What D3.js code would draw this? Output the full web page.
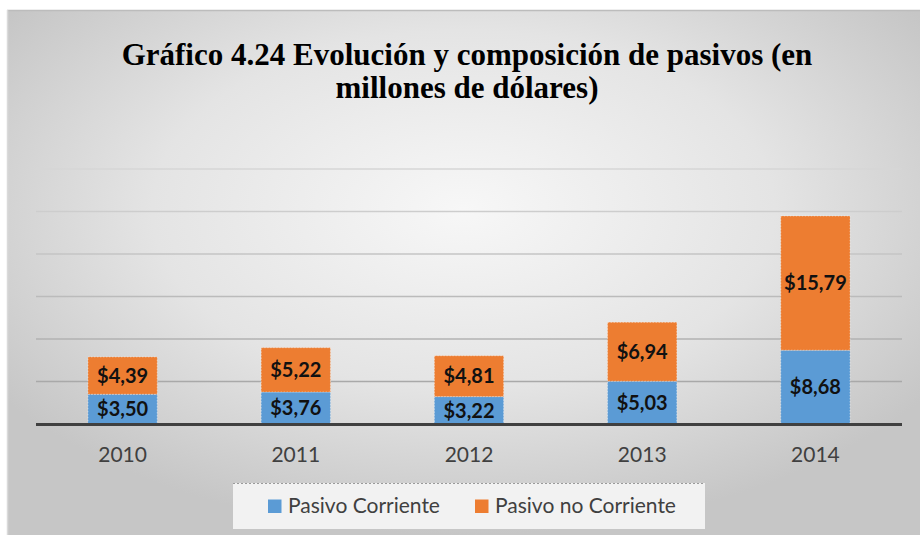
<!DOCTYPE html>
<html>
<head>
<meta charset="utf-8">
<script src="https://cdn.jsdelivr.net/npm/d3@7"></script>
<style>
  html, body { margin: 0; padding: 0; background: #ffffff; }
  svg { display: block; }
</style>
</head>
<body>
<svg id="chart" width="920" height="535"></svg>
<script>
// ---- data ----
const years = ["2010", "2011", "2012", "2013", "2014"];
const pasivoCorriente = [3.50, 3.76, 3.22, 5.03, 8.68];
const pasivoNoCorriente = [4.39, 5.22, 4.81, 6.94, 15.79];
const seriesNames = ["Pasivo Corriente", "Pasivo no Corriente"];
const yTicks = [0, 5, 10, 15, 20, 25, 30];
const titleLines = ["Gráfico 4.24 Evolución y composición de pasivos (en", "millones de dólares)"];

const colors = ["#5b9bd5", "#ed7d31"];
const SERIF = '"Liberation Serif", "Times New Roman", serif';
const SANS = 'Lato, "Open Sans", sans-serif';

const svg = d3.select("#chart");
const W = 920, H = 535;

// background gradient
const defs = svg.append("defs");
const rg = defs.append("radialGradient").attr("id", "bg")
  .attr("cx", "50%").attr("cy", "38%").attr("r", "62%");
rg.append("stop").attr("offset", "0%").attr("stop-color", "#f7f7f7");
rg.append("stop").attr("offset", "55%").attr("stop-color", "#e4e4e4");
rg.append("stop").attr("offset", "100%").attr("stop-color", "#c6c6c6");

svg.append("rect").attr("x", 7).attr("y", 10).attr("width", W - 7).attr("height", H - 10)
  .attr("fill", "url(#bg)");
svg.append("line").attr("x1", 7).attr("x2", W).attr("y1", 10.5).attr("y2", 10.5)
  .attr("stroke", "#bcbcbc").attr("stroke-width", 1.5);
svg.append("line").attr("x1", 7.5).attr("x2", 7.5).attr("y1", 10).attr("y2", H)
  .attr("stroke", "#dadada").attr("stroke-width", 1.5);

// title
const title = svg.append("text")
  .attr("text-anchor", "middle")
  .style("font-family", SERIF)
  .style("font-weight", "bold")
  .style("font-size", "31px")
  .attr("fill", "#000");
titleLines.forEach((t, i) => {
  title.append("tspan").attr("x", 467).attr("y", 65 + i * 33).text(t);
});

// scales
const x = d3.scaleBand().domain(years).range([36, 902]).paddingInner(0.6).paddingOuter(0.3);
const y = d3.scaleLinear().domain([0, 30]).range([424, 169]);

// gridlines
const gridTicks = yTicks.filter(d => d > 0);
const gridColor = d3.scaleLinear().domain([5, 30]).range(["#a9a9a9", "#d6d6d6"]);
svg.append("g").selectAll("line").data(gridTicks).join("line")
  .attr("x1", 36).attr("x2", 902)
  .attr("y1", d => y(d)).attr("y2", d => y(d))
  .attr("stroke", d => gridColor(d)).attr("stroke-width", 1.5);

// stacked data
const rows = years.map((yr, i) => ({ year: yr, a: pasivoCorriente[i], b: pasivoNoCorriente[i] }));
const stack = d3.stack().keys(["a", "b"])(rows);

const fmt = v => "$" + d3.format(".2f")(v).replace(".", ",");

const layers = svg.append("g").selectAll("g").data(stack).join("g")
  .attr("fill", (d, i) => colors[i]);
layers.selectAll("rect").data(d => d).join("rect")
  .attr("x", d => x(d.data.year))
  .attr("width", x.bandwidth())
  .attr("y", d => y(d[1]))
  .attr("height", d => y(d[0]) - y(d[1]))
  .attr("stroke", "#ffffff").attr("stroke-opacity", 0.45)
  .attr("stroke-width", 1).attr("stroke-dasharray", "1.5,1.5");

// data labels
const labels = svg.append("g")
  .style("font-family", SANS)
  .style("font-weight", "bold").style("font-size", "20px")
  .attr("fill", "#111").attr("text-anchor", "middle");
stack.forEach(layer => {
  labels.selectAll(null).data(layer).join("text")
    .attr("x", d => x(d.data.year) + x.bandwidth() / 2)
    .attr("y", d => (y(d[0]) + y(d[1])) / 2)
    .attr("dy", "0.36em")
    .text(d => fmt(d[1] - d[0]));
});

// x axis
const xAxis = svg.append("g").attr("transform", `translate(0, ${y(0)})`)
  .call(d3.axisBottom(x).tickSize(0).tickPadding(0));
xAxis.select(".domain").remove();
svg.append("line").attr("x1", 36).attr("x2", 902)
  .attr("y1", y(0) + 0.5).attr("y2", y(0) + 0.5)
  .attr("stroke", "#404040").attr("stroke-width", 3);
xAxis.selectAll("text")
  .attr("y", 38)
  .attr("dy", 0)
  .style("font-family", SANS)
  .style("font-size", "21px")
  .attr("fill", "#404040");

// legend
const lg = svg.append("g");
lg.append("rect").attr("x", 233).attr("y", 483).attr("width", 472).attr("height", 46)
  .attr("fill", "#f2f2f2");
lg.append("line").attr("x1", 233).attr("x2", 705).attr("y1", 483.5).attr("y2", 483.5)
  .attr("stroke", "#9a9a9a").attr("stroke-width", 1).attr("stroke-dasharray", "2,2");
const legendX = [268, 475];
seriesNames.forEach((name, i) => {
  lg.append("rect").attr("x", legendX[i]).attr("y", 499.5).attr("width", 13.5).attr("height", 13.5)
    .attr("fill", colors[i]);
  lg.append("text").attr("x", legendX[i] + 20).attr("y", 513)
    .style("font-family", SANS)
    .style("font-size", "21px").attr("fill", "#404040")
    .text(name);
});
</script>
</body>
</html>
